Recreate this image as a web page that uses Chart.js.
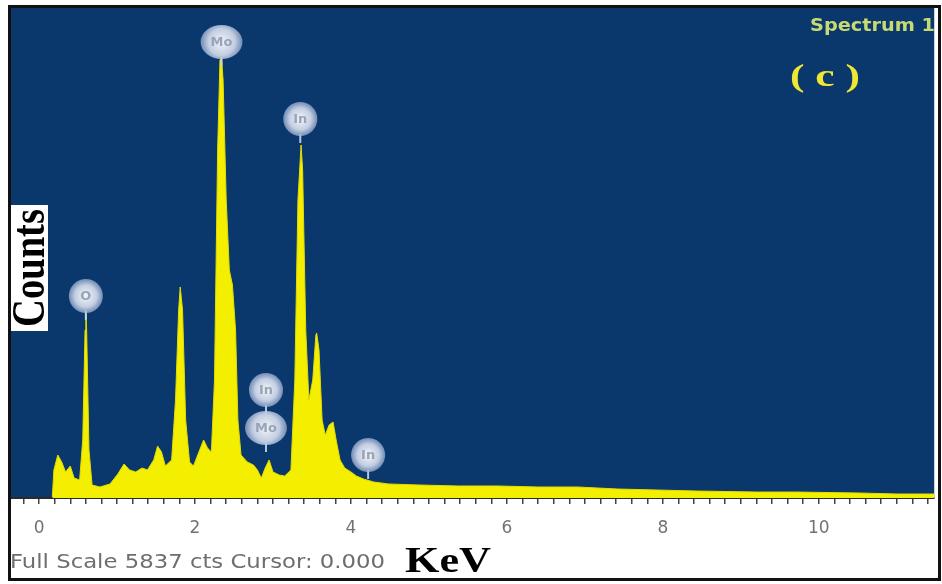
<!DOCTYPE html>
<html>
<head>
<meta charset="utf-8">
<script src="https://cdn.jsdelivr.net/npm/chart.js@4.4.1/dist/chart.umd.min.js"></script>
<style>
html,body{margin:0;padding:0;background:#fff;}
#wrap{width:942px;height:584px;}
</style>
</head>
<body>
<div id="wrap"><canvas id="c" width="942" height="584"></canvas></div>
<script>
// ---- Data ----
const energyKeV = [0.17,0.19,0.24,0.29,0.34,0.40,0.45,0.52,0.56,0.59,0.60,0.61,0.64,0.68,0.78,0.91,1.01,1.09,1.16,1.24,1.32,1.39,1.47,1.52,1.57,1.62,1.70,1.75,1.79,1.81,1.84,1.88,1.93,1.98,2.06,2.11,2.16,2.21,2.25,2.29,2.32,2.34,2.36,2.40,2.44,2.48,2.52,2.55,2.59,2.67,2.75,2.80,2.85,2.90,2.95,3.00,3.08,3.15,3.23,3.28,3.32,3.36,3.38,3.42,3.46,3.51,3.55,3.56,3.59,3.63,3.67,3.72,3.77,3.81,3.86,3.92,4.00,4.07,4.16,4.29,4.48,4.87,5.38,5.89,6.40,6.91,7.42,7.93,8.44,9.21,9.72,10.49,11.00,11.48];
const counts    = [12,334,512,429,310,381,238,214,691,2001,2239,2001,572,155,131,167,286,405,334,310,357,334,453,619,548,381,453,1167,2239,2513,2239,929,429,381,572,691,596,548,1406,4145,5217,5241,4979,3550,2716,2537,2001,929,512,429,393,334,238,357,453,310,274,262,334,1406,3550,4205,3907,2001,1167,1406,1942,1966,1763,929,750,870,905,691,453,357,310,262,226,191,167,155,143,143,131,131,107,95,83,71,71,60,48,48];
const fullScaleCounts = 5837;
const majorTickValues = [0,2,4,6,8,10];
const tickLabels = ['0','2','4','6','8','10'];
const peakLabels = ['O','Mo','In','In','Mo','In'];
const peakLabelKeV = [0.60,2.34,3.35,2.91,2.91,4.22];
const peakLabelCounts = [2406,5432,4515,1287,834,512];

const bgPlugin = {
  id:'bg',
  beforeDraw(chart){
    const {ctx, chartArea:a} = chart;
    ctx.save();
    ctx.fillStyle='#ffffff';
    ctx.fillRect(0,0,chart.width,chart.height);
    ctx.fillStyle='#0a386d';
    ctx.fillRect(a.left,a.top,a.right-a.left,a.bottom-a.top);
    ctx.restore();
  }
};

function fitText(ctx, text, x, y, width, align){
  const w = ctx.measureText(text).width;
  const s = width / w;
  ctx.save();
  ctx.translate(x, y);
  ctx.scale(s, 1);
  ctx.textAlign = align || 'left';
  ctx.fillText(text, 0, 0);
  ctx.restore();
}

const overlayPlugin = {
  id:'overlay',
  afterDraw(chart){
    const {ctx, scales:{x, y}} = chart;
    ctx.save();
    // peak labels
    for(let i=0;i<peakLabels.length;i++){
      const px = x.getPixelForValue(peakLabelKeV[i]);
      const py = y.getPixelForValue(peakLabelCounts[i]);
      ctx.font = 'bold 13px "DejaVu Sans"';
      const tw = ctx.measureText(peakLabels[i]).width;
      const rx = Math.max(17, tw/2+10), ry = 17;
      // stem
      ctx.strokeStyle='rgba(200,215,235,0.9)';
      ctx.lineWidth=2;
      ctx.beginPath(); ctx.moveTo(px,py+ry-2); ctx.lineTo(px,py+ry+7); ctx.stroke();
      const g = ctx.createRadialGradient(px,py,2,px,py,rx);
      g.addColorStop(0,'rgba(235,238,246,1)');
      g.addColorStop(0.6,'rgba(205,214,232,0.95)');
      g.addColorStop(1,'rgba(160,178,212,0.7)');
      ctx.fillStyle=g;
      ctx.beginPath(); ctx.ellipse(px,py,rx,ry,0,0,Math.PI*2); ctx.fill();
      ctx.fillStyle='rgba(150,160,180,0.95)';
      ctx.textAlign='center'; ctx.textBaseline='middle';
      ctx.fillText(peakLabels[i], px, py+1);
    }
    // Spectrum 1
    ctx.textBaseline='middle';
    ctx.fillStyle='#c6da74';
    ctx.font='bold 17px "DejaVu Sans"';
    fitText(ctx,'Spectrum 1',810,27,125,'left');
    // (c)
    ctx.fillStyle='#f0e634';
    ctx.font='bold 32px "Liberation Serif"';
    fitText(ctx,'( c )',790,78,70,'left');
    // Counts box
    ctx.fillStyle='#ffffff';
    ctx.fillRect(11,205,37,126);
    ctx.save();
    ctx.translate(30,268);
    ctx.rotate(-Math.PI/2);
    ctx.fillStyle='#000';
    ctx.font='bold 46px "Liberation Serif"';
    ctx.textAlign='center'; ctx.textBaseline='middle';
    ctx.fillText('Counts',0,2,118);
    ctx.restore();
    // bottom text
    ctx.fillStyle='#6e6e6e';
    ctx.font='19px "DejaVu Sans"';
    ctx.textBaseline='middle';
    fitText(ctx,'Full Scale '+fullScaleCounts+' cts Cursor: 0.000',10,563,375,'left');
    ctx.fillStyle='#000';
    ctx.font='bold 36px "Liberation Serif"';
    ctx.textBaseline='alphabetic';
    fitText(ctx,'KeV',405,572,86,'left');
    // frame
    ctx.strokeStyle='#111';
    ctx.lineWidth=3;
    ctx.strokeRect(9.5,6.5,930,573);
    ctx.restore();
  }
};

new Chart(document.getElementById('c'), {
  type:'line',
  data:{datasets:[{
    data: energyKeV.map((e,i)=>({x:e,y:counts[i]})),
    borderColor:'#e2dc00', borderWidth:1,
    backgroundColor:'#f4ef00', fill:'origin',
    pointRadius:0, tension:0
  }]},
  options:{
    responsive:false, animation:false, events:[],
    layout:{padding:{left:11,right:4,top:8,bottom:0}},
    plugins:{legend:{display:false}, tooltip:{enabled:false}},
    scales:{
      x:{
        type:'linear', min:-0.36, max:11.48,
        afterFit(s){ s.height = 86; },
        border:{display:true,color:'#2a2a2a',width:2},
        grid:{display:true,drawOnChartArea:false,drawTicks:true,tickLength:6,color:'#444',lineWidth:1.5},
        ticks:{
          stepSize:0.2, includeBounds:false, autoSkip:false, maxRotation:0, minRotation:0,
          maxTicksLimit:200, padding:14, color:'#727272',
          font:{family:'DejaVu Sans', size:17},
          callback:(v)=>{
            const r = Math.round(v);
            if(Math.abs(v-r)>1e-6) return '';
            const idx = majorTickValues.indexOf(r);
            return idx>=0 ? tickLabels[idx] : '';
          }
        }
      },
      y:{display:false, min:0, max:fullScaleCounts}
    }
  },
  plugins:[bgPlugin, overlayPlugin]
});
</script>
</body>
</html>
